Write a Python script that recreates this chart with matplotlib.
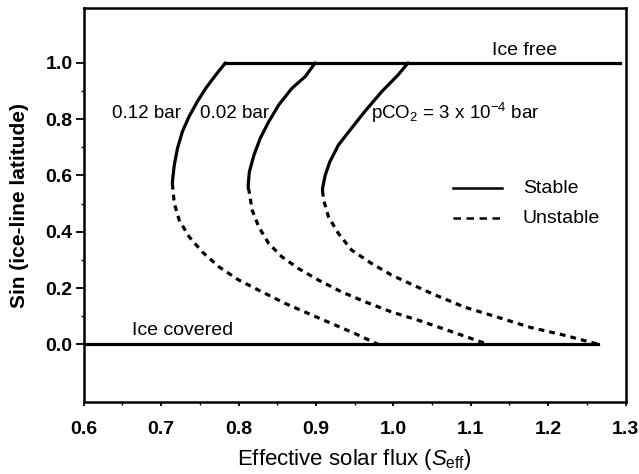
import numpy as np
import matplotlib
matplotlib.use('Agg')
import matplotlib.pyplot as plt

plt.rcParams['font.family'] = ['Liberation Sans', 'DejaVu Sans']
plt.rcParams['mathtext.fontset'] = 'custom'
plt.rcParams['mathtext.rm'] = 'Liberation Sans'
plt.rcParams['mathtext.it'] = 'Liberation Sans:italic'

# branches: stable (solid) and unstable (dashed)
s1_x = [0.783, 0.7705, 0.7577, 0.7469, 0.7362, 0.7276, 0.7212, 0.717, 0.7148, 0.7145]
s1_y = [1.0, 0.957, 0.910, 0.863, 0.810, 0.757, 0.697, 0.637, 0.584, 0.57]
u1_x = [0.7145, 0.717, 0.7234, 0.7362, 0.7533, 0.7748, 0.8005, 0.8305, 0.8604, 0.8905, 0.920, 0.9505, 0.980]
u1_y = [0.57, 0.501, 0.441, 0.382, 0.328, 0.275, 0.228, 0.186, 0.145, 0.109, 0.074, 0.038, 0.0]

s2_x = [0.899, 0.886, 0.869, 0.852, 0.839, 0.828, 0.820, 0.814, 0.8125, 0.8125]
s2_y = [1.0, 0.951, 0.910, 0.851, 0.791, 0.732, 0.673, 0.613, 0.566, 0.555]
u2_x = [0.8125, 0.8134, 0.8176, 0.8262, 0.839, 0.856, 0.8776, 0.9033, 0.9333, 0.9634, 0.9976, 1.035, 1.070, 1.122]
u2_y = [0.555, 0.548, 0.477, 0.417, 0.358, 0.311, 0.269, 0.228, 0.186, 0.151, 0.115, 0.083, 0.05, 0.0]

s3_x = [1.019, 1.006, 0.985, 0.963, 0.946, 0.929, 0.918, 0.912, 0.9085, 0.9085]
s3_y = [1.0, 0.957, 0.898, 0.827, 0.768, 0.708, 0.649, 0.601, 0.554, 0.545]
u3_x = [0.9085, 0.910, 0.9162, 0.929, 0.946, 0.972, 0.9976, 1.049, 1.092, 1.135, 1.177, 1.221, 1.265]
u3_y = [0.545, 0.512, 0.453, 0.394, 0.335, 0.287, 0.246, 0.181, 0.132, 0.096, 0.060, 0.032, 0.0]

icefree_x = [0.783, 1.293]
icefree_y = [1.0, 1.0]
icecov_x = [0.6, 1.265]
icecov_y = [0.0, 0.0]

fig = plt.figure(figsize=(6.39, 4.74), dpi=100)
ax = fig.add_axes([0.131, 0.152, 0.848, 0.831])

lw = 2.3
dash = (0, (1.8, 1.6))
for sx, sy, ux, uy in [(s1_x, s1_y, u1_x, u1_y), (s2_x, s2_y, u2_x, u2_y), (s3_x, s3_y, u3_x, u3_y)]:
    ax.plot(sx, sy, color='black', lw=lw, solid_capstyle='round', solid_joinstyle='round')
    ax.plot(ux, uy, color='black', lw=lw, linestyle=dash)
ax.plot(icefree_x, icefree_y, color='black', lw=lw)
ax.plot(icecov_x, icecov_y, color='black', lw=lw)

# legend drawn by hand
ax.plot([1.077, 1.141], [0.555, 0.555], color='black', lw=1.8)
ax.plot([1.077, 1.141], [0.448, 0.448], color='black', lw=1.8, linestyle=(0, (3, 2.2)))
ax.text(1.167, 0.555, 'Stable', fontsize=14, va='center')
ax.text(1.167, 0.448, 'Unstable', fontsize=14, va='center')

ax.text(0.636, 0.822, '0.12 bar', fontsize=13.5, va='center')
ax.text(0.750, 0.822, '0.02 bar', fontsize=13.5, va='center')
ax.text(0.971, 0.822, r'pCO$_2$ = 3 x 10$^{-4}$ bar', fontsize=13.5, va='center')
ax.text(1.128, 1.045, 'Ice free', fontsize=14, va='center')
ax.text(0.663, 0.05, 'Ice covered', fontsize=14, va='center')

ax.set_xlim(0.6, 1.3)
ax.set_ylim(-0.205, 1.195)
ax.set_xticks(np.arange(0.6, 1.31, 0.1))
ax.set_xticks(np.arange(0.65, 1.3, 0.1), minor=True)
ax.set_yticks(np.arange(0.0, 1.01, 0.2))
ax.set_yticks(np.arange(0.1, 1.0, 0.2), minor=True)
ax.set_xticklabels(['%.1f' % v for v in np.arange(0.6, 1.31, 0.1)])
ax.set_yticklabels(['%.1f' % v for v in np.arange(0.0, 1.01, 0.2)])
ax.tick_params(axis='x', which='major', labelsize=14, width=1.3, length=3, pad=11, direction='out')
ax.tick_params(axis='y', which='major', labelsize=14, width=1.3, length=6, pad=2, direction='out')
ax.tick_params(axis='both', which='minor', width=1.0, length=2.5, direction='out')
for lab in ax.get_xticklabels() + ax.get_yticklabels():
    lab.set_fontweight('bold')
for sp in ax.spines.values():
    sp.set_linewidth(1.8)

ax.set_xlabel(r'Effective solar flux ($S_{\mathrm{eff}}$)', fontsize=16, labelpad=6)
ax.set_ylabel('Sin (ice-line latitude)', fontsize=15, fontweight='bold', labelpad=12)

fig.savefig('out.png', dpi=100)
